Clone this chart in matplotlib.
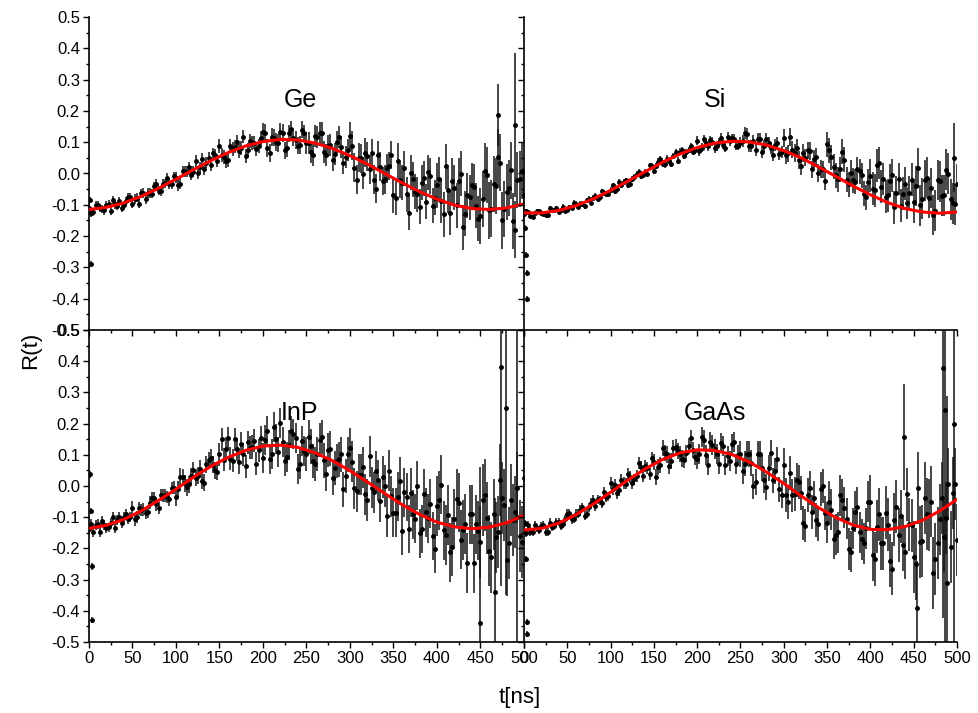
import numpy as np
import matplotlib
matplotlib.use("Agg")
import matplotlib.pyplot as plt
from matplotlib.ticker import MultipleLocator, FuncFormatter

plt.rcParams['font.family'] = ['Liberation Sans', 'DejaVu Sans']
plt.rcParams['axes.unicode_minus'] = False

# ---------------- data ----------------
panel_names = ["Ge", "Si", "InP", "GaAs"]

t_a = np.arange(0, 501, 5)        # ns, channel set A
t_b = np.arange(2.5, 500, 5)      # ns, channel set B (interleaved)
t_fit = np.arange(0, 501, 20)     # ns

ge_a = [-0.111,-0.123,-0.100,-0.113,-0.101,-0.119,-0.099,-0.089,-0.100,-0.074,
        -0.096,-0.077,-0.063,-0.081,-0.062,-0.041,-0.055,-0.034,-0.013,-0.035,
        -0.013,-0.033,0.006,0.020,0.006,0.002,0.047,0.034,0.027,0.060,
        0.088,0.052,0.044,0.079,0.100,0.081,0.057,0.105,0.099,0.088,
        0.133,0.082,0.117,0.100,0.133,0.074,0.128,0.115,0.089,0.140,
        0.097,0.068,0.119,0.128,0.070,0.087,0.042,0.101,0.085,0.052,
        0.120,0.018,0.051,-0.002,0.055,0.065,-0.048,0.022,-0.018,0.024,
        -0.070,0.040,-0.030,-0.066,0.002,-0.059,-0.106,-0.015,0.004,-0.103,
        -0.037,-0.087,0.023,-0.126,-0.046,-0.024,-0.172,-0.069,-0.037,-0.103,
        -0.135,0.009,-0.118,-0.033,0.052,-0.150,-0.059,0.010,-0.179,-0.017,-0.070]
ge_b = [-0.126,-0.100,-0.111,-0.118,-0.098,-0.084,-0.105,-0.109,-0.088,-0.075,
        -0.082,-0.096,-0.062,-0.062,-0.064,-0.034,-0.056,-0.031,-0.033,-0.009,
        -0.038,0.007,0.006,-0.004,0.040,0.020,0.013,0.050,0.064,0.040,
        0.060,0.039,0.088,0.086,0.073,0.118,0.074,0.097,0.077,0.113,
        0.129,0.065,0.115,0.097,0.129,0.080,0.141,0.107,0.091,0.128,
        0.096,0.058,0.117,0.129,0.060,0.090,0.061,0.118,0.034,0.074,
        0.089,-0.020,0.048,0.066,0.013,-0.020,0.058,-0.024,0.017,0.059,
        -0.078,-0.022,0.017,-0.125,-0.018,-0.067,-0.029,-0.090,-0.008,-0.077,
        -0.019,-0.130,-0.054,-0.024,-0.102,-0.001,-0.128,-0.076,-0.043,-0.144,
        -0.081,-0.004,-0.112,-0.039,0.035,-0.114,-0.046,-0.151,-0.021,0.007]

si_a = [-0.128,-0.123,-0.139,-0.120,-0.125,-0.132,-0.110,-0.116,-0.123,-0.106,
        -0.118,-0.110,-0.097,-0.097,-0.105,-0.080,-0.077,-0.082,-0.056,-0.065,
        -0.052,-0.055,-0.028,-0.026,-0.036,-0.018,0.000,-0.007,0.006,0.026,
        0.008,0.038,0.031,0.047,0.031,0.068,0.069,0.056,0.075,0.069,
        0.105,0.082,0.097,0.106,0.080,0.100,0.092,0.118,0.113,0.089,
        0.099,0.128,0.088,0.104,0.110,0.068,0.109,0.082,0.090,0.062,
        0.114,0.064,0.076,0.081,0.023,0.051,0.072,0.047,0.002,0.013,
        0.093,0.052,-0.006,0.013,0.044,-0.035,-0.022,0.013,-0.006,-0.076,
        -0.007,-0.054,0.034,-0.018,-0.070,-0.006,-0.061,-0.103,-0.032,-0.061,
        -0.092,0.018,-0.080,-0.013,-0.046,-0.119,-0.025,-0.070,-0.001,-0.095,-0.035]
si_b = [-0.120,-0.135,-0.127,-0.121,-0.130,-0.134,-0.118,-0.111,-0.118,-0.119,
        -0.108,-0.093,-0.106,-0.096,-0.085,-0.094,-0.071,-0.075,-0.062,-0.065,
        -0.038,-0.050,-0.038,-0.022,-0.033,-0.011,0.005,-0.004,0.000,0.023,
        0.024,0.046,0.030,0.040,0.056,0.041,0.074,0.068,0.087,0.074,
        0.071,0.110,0.087,0.102,0.087,0.115,0.083,0.103,0.111,0.089,
        0.105,0.126,0.087,0.075,0.111,0.088,0.099,0.058,0.099,0.068,
        0.058,0.116,0.065,0.043,0.066,0.074,0.013,0.052,0.015,-0.024,
        0.074,0.022,-0.019,0.069,-0.020,0.003,-0.026,0.007,-0.064,-0.026,
        -0.048,0.026,-0.042,-0.074,-0.023,-0.108,-0.017,-0.064,-0.094,-0.020,
        -0.040,-0.102,-0.022,-0.078,-0.133,-0.021,-0.071,0.012,-0.082,-0.099]

inp_a = [-0.138,-0.148,-0.121,-0.113,-0.134,-0.120,-0.134,-0.100,-0.100,-0.105,
         -0.069,-0.100,-0.077,-0.087,-0.053,-0.038,-0.071,-0.031,-0.035,-0.006,
         -0.036,0.030,0.009,0.005,0.050,0.033,0.016,0.070,0.091,0.050,
         0.101,0.084,0.153,0.081,0.117,0.136,0.063,0.123,0.145,0.114,
         0.089,0.175,0.102,0.151,0.201,0.080,0.132,0.168,0.054,0.145,
         0.103,0.127,0.070,0.148,0.082,0.115,0.025,0.081,0.101,0.033,
         0.121,-0.008,0.036,0.060,-0.045,-0.006,0.047,-0.049,0.000,0.049,
         -0.086,-0.034,-0.143,-0.035,-0.021,-0.105,-0.152,-0.025,-0.104,-0.160,
         -0.064,0.004,-0.157,-0.212,-0.105,-0.054,-0.141,-0.247,-0.091,-0.123,
         -0.180,-0.029,-0.207,-0.091,-0.148,-0.039,-0.238,-0.044,-0.083,-0.160,0.026]
inp_b = [-0.123,-0.125,-0.148,-0.124,-0.133,-0.099,-0.109,-0.118,-0.090,-0.099,
         -0.107,-0.072,-0.075,-0.082,-0.038,-0.059,-0.029,-0.030,-0.043,-0.005,
         -0.011,0.028,-0.004,0.031,0.027,0.055,0.010,0.082,0.068,0.046,
         0.150,0.120,0.088,0.150,0.076,0.101,0.140,0.125,0.072,0.154,
         0.146,0.088,0.190,0.110,0.141,0.094,0.176,0.153,0.069,0.111,
         0.157,0.081,0.103,0.157,0.039,0.120,0.057,0.085,-0.011,0.101,
         0.078,-0.017,0.036,-0.026,0.095,-0.020,0.018,0.029,-0.096,-0.033,
         -0.085,0.016,-0.020,-0.138,-0.091,0.001,-0.138,-0.084,-0.057,-0.201,
         -0.046,-0.142,-0.093,-0.194,-0.041,-0.172,-0.122,-0.091,-0.248,-0.143,
         -0.045,-0.103,-0.229,-0.165,0.019,-0.060,-0.183,-0.109,-0.005,-0.180]

gaas_a = [-0.143,-0.124,-0.147,-0.135,-0.127,-0.148,-0.117,-0.127,-0.114,-0.122,
          -0.089,-0.106,-0.090,-0.076,-0.095,-0.068,-0.044,-0.043,-0.055,-0.036,
          0.010,0.003,-0.014,0.009,0.040,0.010,0.031,0.062,0.065,0.039,
          0.077,0.060,0.122,0.101,0.081,0.125,0.102,0.083,0.129,0.116,
          0.088,0.158,0.098,0.140,0.120,0.072,0.128,0.096,0.135,0.070,
          0.103,0.072,0.102,-0.001,0.103,0.057,-0.004,0.106,0.048,-0.011,
          0.067,-0.052,-0.030,0.019,-0.023,-0.127,-0.006,-0.037,-0.123,0.000,
          -0.118,-0.076,-0.156,-0.030,-0.069,-0.202,-0.136,-0.068,-0.171,-0.136,
          -0.051,-0.234,-0.091,-0.183,-0.124,-0.265,-0.067,-0.097,-0.212,-0.122,
          -0.227,-0.006,-0.177,-0.090,-0.050,-0.235,-0.107,-0.162,0.007,-0.023,-0.174]
gaas_b = [-0.151,-0.146,-0.124,-0.140,-0.126,-0.147,-0.131,-0.115,-0.127,-0.107,
          -0.088,-0.105,-0.089,-0.068,-0.089,-0.055,-0.064,-0.046,-0.018,-0.033,
          -0.010,-0.024,0.019,0.008,0.028,0.021,0.074,0.031,0.057,0.089,
          0.030,0.068,0.105,0.064,0.123,0.112,0.088,0.106,0.154,0.093,
          0.102,0.149,0.067,0.131,0.104,0.137,0.067,0.080,0.140,0.098,
          0.048,0.104,0.073,0.013,0.102,0.018,0.058,0.018,0.085,-0.030,
          -0.028,0.042,-0.026,0.013,-0.118,-0.028,-0.083,-0.110,-0.010,-0.086,
          -0.050,-0.169,-0.148,-0.044,-0.105,-0.210,-0.083,-0.148,-0.184,-0.050,
          -0.221,-0.130,-0.183,-0.085,-0.240,-0.108,-0.157,-0.188,-0.027,-0.126,
          -0.249,-0.180,-0.038,-0.094,-0.279,-0.183,-0.039,-0.102,-0.196,0.006]

# error-bar half widths, one value per 50 ns block
ge_err_seg = [0.013, 0.015, 0.018, 0.022, 0.028, 0.035, 0.046, 0.056, 0.072, 0.090]
si_err_seg = [0.007, 0.008, 0.009, 0.011, 0.014, 0.019, 0.028, 0.040, 0.052, 0.065]
inp_err_seg = [0.016, 0.020, 0.027, 0.037, 0.048, 0.055, 0.066, 0.078, 0.095, 0.115]
gaas_err_seg = [0.013, 0.015, 0.019, 0.026, 0.032, 0.041, 0.054, 0.066, 0.085, 0.115]

# isolated points (first channels and large-error points)
ge_out_t = [1, 2, 470, 490]
ge_out_y = [-0.084, -0.29, 0.187, 0.155]
ge_out_err = [0.01, 0.01, 0.10, 0.23]
si_out_t = [1, 2, 3, 4, 497]
si_out_y = [-0.173, -0.26, -0.317, -0.40, 0.05]
si_out_err = [0.01, 0.01, 0.01, 0.01, 0.11]
inp_out_t = [1, 2, 3, 4, 450, 467, 474, 479, 492]
inp_out_y = [0.037, -0.08, -0.258, -0.43, -0.44, -0.34, 0.38, 0.25, -0.10]
inp_out_err = [0.01, 0.01, 0.01, 0.01, 0.5, 0.3, 0.7, 0.6, 0.6]
gaas_out_t = [1, 2, 3, 4, 439, 454, 484, 486, 489, 496]
gaas_out_y = [-0.12, -0.235, -0.437, -0.474, 0.157, -0.39, 0.378, 0.245, -0.31, 0.20]
gaas_out_err = [0.01, 0.01, 0.01, 0.01, 0.17, 0.15, 0.8, 0.8, 0.6, 0.7]

# fitted curves
ge_fit = [-0.115,-0.108,-0.094,-0.073,-0.047,-0.018,0.012,0.041,0.067,0.088,0.102,0.109,0.107,
          0.097,0.080,0.057,0.030,0.000,-0.030,-0.058,-0.082,-0.101,-0.112,-0.115,-0.110,-0.097]
si_fit = [-0.126,-0.126,-0.118,-0.103,-0.081,-0.054,-0.024,0.006,0.036,0.062,0.083,0.097,0.103,
          0.101,0.091,0.073,0.050,0.021,-0.009,-0.040,-0.068,-0.093,-0.112,-0.123,-0.127,-0.123]
inp_fit = [-0.136,-0.126,-0.107,-0.080,-0.046,-0.010,0.028,0.063,0.092,0.114,0.128,0.131,0.124,
           0.106,0.081,0.049,0.013,-0.024,-0.060,-0.091,-0.116,-0.131,-0.137,-0.132,-0.118,-0.094]
gaas_fit = [-0.141,-0.136,-0.119,-0.092,-0.058,-0.020,0.019,0.055,0.085,0.106,0.116,0.114,0.101,
            0.077,0.045,0.008,-0.032,-0.069,-0.101,-0.125,-0.139,-0.140,-0.130,-0.110,-0.080,-0.043]

panels = [
    (ge_a, ge_b, ge_err_seg, ge_out_t, ge_out_y, ge_out_err, ge_fit),
    (si_a, si_b, si_err_seg, si_out_t, si_out_y, si_out_err, si_fit),
    (inp_a, inp_b, inp_err_seg, inp_out_t, inp_out_y, inp_out_err, inp_fit),
    (gaas_a, gaas_b, gaas_err_seg, gaas_out_t, gaas_out_y, gaas_out_err, gaas_fit),
]

# ---------------- figure ----------------
W, H = 979, 713
fig = plt.figure(figsize=(W / 100, H / 100), dpi=100)

lx0, lx1, rx1 = 89, 524, 957
ty0, my, by = 17, 330, 642
rects = [
    (lx0 / W, 1 - my / H, (lx1 - lx0) / W, (my - ty0) / H),
    (lx1 / W, 1 - my / H, (rx1 - lx1) / W, (my - ty0) / H),
    (lx0 / W, 1 - by / H, (lx1 - lx0) / W, (by - my) / H),
    (lx1 / W, 1 - by / H, (rx1 - lx1) / W, (by - my) / H),
]

def yfmt(v, pos):
    s = f"{v:.1f}"
    return "0.0" if s == "-0.0" else s

seg_a = np.minimum(np.arange(len(t_a)) // 10, 9)
seg_b = np.minimum(np.arange(len(t_b)) // 10, 9)
eb_style = dict(fmt='o', ms=2.5, mfc='black', mec='black', ecolor='#141414',
                elinewidth=1.1, capsize=0, zorder=2)

for i, (rect, name, pdata) in enumerate(zip(rects, panel_names, panels)):
    ya, yb, eseg, ot, oy, oe, fit = pdata
    ax = fig.add_axes(rect)
    ax.set_facecolor('none')
    eseg = np.asarray(eseg)
    ax.errorbar(t_a, ya, yerr=eseg[seg_a], **eb_style)
    ax.errorbar(t_b, yb, yerr=eseg[seg_b], **eb_style)
    ax.errorbar(ot, oy, yerr=oe, **eb_style)
    ax.plot(t_fit, fit, color='#ff0000', lw=2.2, zorder=3)

    ax.set_xlim(0, 500)
    ax.set_ylim(-0.5, 0.5)
    for s in ['top', 'right']:
        ax.spines[s].set_visible(False)
    for s in ['left', 'bottom']:
        ax.spines[s].set_linewidth(1.2)
    ax.xaxis.set_major_locator(MultipleLocator(50))
    ax.xaxis.set_minor_locator(MultipleLocator(25))
    ax.yaxis.set_major_locator(MultipleLocator(0.1))
    ax.yaxis.set_minor_locator(MultipleLocator(0.05))
    ax.yaxis.set_major_formatter(FuncFormatter(yfmt))
    ax.tick_params(which='major', direction='out', length=4.5, width=1.0,
                   labelsize=12, pad=2)
    ax.tick_params(which='minor', direction='out', length=2.5, width=1.0)
    if i % 2 == 1:
        ax.tick_params(axis='y', labelleft=False)
    if i < 2:
        ax.tick_params(axis='x', labelbottom=False)
    tx = 0.485 if i % 2 == 0 else 0.44
    ax.text(tx, 0.735, name, transform=ax.transAxes, ha='center', va='center',
            fontsize=18)

fig.text(31 / W, 1 - 350 / H, "R(t)", rotation=90, ha='center', va='center', fontsize=16)
fig.text(520 / W, 1 - 697 / H, "t[ns]", ha='center', va='center', fontsize=16)

fig.savefig("out.png", dpi=100)
